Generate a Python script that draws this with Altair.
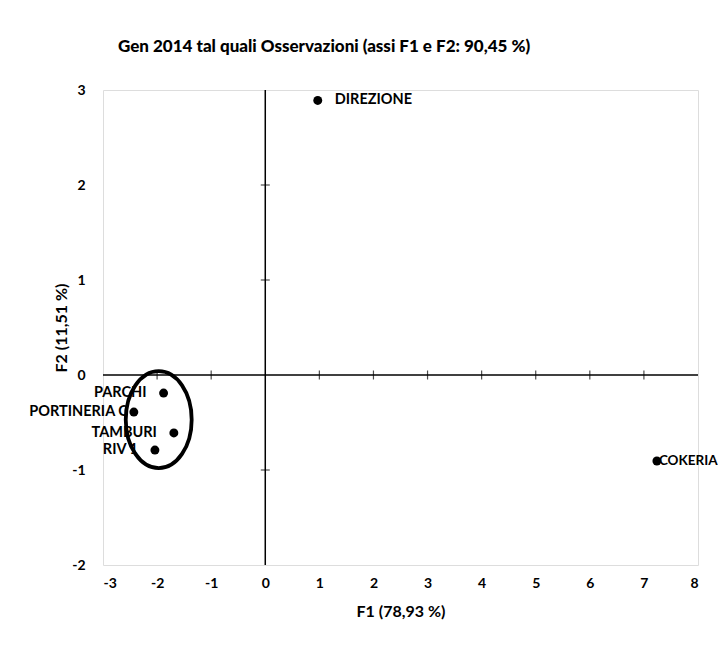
import altair as alt
import pandas as pd

names = ["DIREZIONE", "COKERIA", "PARCHI", "PORTINERIA C", "TAMBURI", "RIV 1"]
f1 = [0.97, 7.24, -1.88, -2.43, -1.69, -2.04]
f2 = [2.89, -0.905, -0.19, -0.39, -0.61, -0.79]

x_ticks = [-3, -2, -1, 0, 1, 2, 3, 4, 5, 6, 7, 8]
y_ticks = [-2, -1, 0, 1, 2, 3]

group_x = [-1.97]
group_y = [-0.47]

FONT = "Lato"

df = pd.DataFrame({"name": names, "F1": f1, "F2": f2})
inner_x = [v for v in x_ticks if v not in (-3, 0, 8)]
inner_y = [v for v in y_ticks if v not in (-2, 0, 3)]
xt = pd.DataFrame({"F1": inner_x, "F2": [0] * len(inner_x)})
yt = pd.DataFrame({"F1": [0] * len(inner_y), "F2": inner_y})
grp = pd.DataFrame({"F1": group_x, "F2": group_y})

xscale = alt.Scale(domain=[-3, 8], nice=False, zero=False)
yscale = alt.Scale(domain=[-2, 3], nice=False, zero=False)

label_expr = "replace(datum.label, '\u2212', '-')"

xenc = alt.X("F1:Q", scale=xscale,
             axis=alt.Axis(title="F1 (78,93 %)", values=x_ticks, format="d", labelExpr=label_expr,
                           grid=False, domain=False, ticks=False, labelPadding=11,
                           labelFont=FONT, labelFontSize=14, labelFontWeight="bold",
                           titleFont=FONT, titleFontSize=16, titleFontWeight="bold",
                           titlePadding=13, labelColor="black", titleColor="black"))
yenc = alt.Y("F2:Q", scale=yscale,
             axis=alt.Axis(title="F2 (11,51 %)", values=y_ticks, format="d", labelExpr=label_expr,
                           grid=False, domain=False, ticks=False, labelPadding=18,
                           labelFont=FONT, labelFontSize=14, labelFontWeight="bold",
                           titleFont=FONT, titleFontSize=16, titleFontWeight="bold",
                           titlePadding=2, labelColor="black", titleColor="black"))

base = alt.Chart(df)

points = base.mark_point(filled=True, color="black", size=80, opacity=1).encode(x=xenc, y=yenc)

zero_v = alt.Chart(pd.DataFrame({"F1": [0]})).mark_rule(color="black", strokeWidth=1.5).encode(x="F1:Q")
zero_h = alt.Chart(pd.DataFrame({"F2": [0]})).mark_rule(color="black", strokeWidth=1.5).encode(y="F2:Q")

ticks_h = alt.Chart(xt).mark_tick(orient="vertical", color="black", size=9, thickness=1.2).encode(
    x="F1:Q", y="F2:Q")
ticks_v = alt.Chart(yt).mark_tick(orient="horizontal", color="black", size=9, thickness=1.2).encode(
    x="F1:Q", y="F2:Q")

lbl = dict(font=FONT, fontSize=14.5, fontWeight="bold", color="black", baseline="middle")

lab_dir = base.transform_filter(alt.datum.name == "DIREZIONE").mark_text(
    align="left", dx=17, **lbl).encode(x="F1:Q", y="F2:Q", text="name:N")
lab_cok = base.transform_filter(alt.datum.name == "COKERIA").mark_text(
    align="left", dx=2, font=FONT, fontSize=13.5, fontWeight="bold", color="black",
    baseline="middle").encode(x="F1:Q", y="F2:Q", text="name:N")
lab_port = base.transform_filter(alt.datum.name == "PORTINERIA C").mark_text(
    align="right", dx=-6, **lbl).encode(x="F1:Q", y="F2:Q", text="name:N")
lab_left = base.transform_filter(
    alt.FieldOneOfPredicate(field="name", oneOf=["PARCHI", "TAMBURI", "RIV 1"])
).mark_text(align="right", dx=-17, **lbl).encode(x="F1:Q", y="F2:Q", text="name:N")

ellipse = alt.Chart(grp).mark_point(
    shape="M -0.68 0 A 0.68 1 0 1 0 0.68 0 A 0.68 1 0 1 0 -0.68 0 Z",
    size=9400, filled=False, color="black", strokeWidth=3.8, opacity=1
).encode(x="F1:Q", y="F2:Q")

chart = alt.layer(
    zero_v, zero_h, ticks_h, ticks_v, lab_dir, lab_cok, lab_port, lab_left, points, ellipse
).properties(
    width=595, height=475,
    title=alt.TitleParams("Gen 2014 tal quali Osservazioni (assi F1 e F2: 90,45 %)",
                          font=FONT, fontSize=17, fontWeight=900, color="black",
                          anchor="start", frame="group", dx=15, offset=27),
    autosize=alt.AutoSizeParams(type="none"),
    padding={"left": 95, "top": 82, "right": 20, "bottom": 84},
).configure_view(stroke="black", strokeWidth=1.5).configure(background="white")

chart.save("out.html", embed_options={"renderer": "svg", "actions": False})
